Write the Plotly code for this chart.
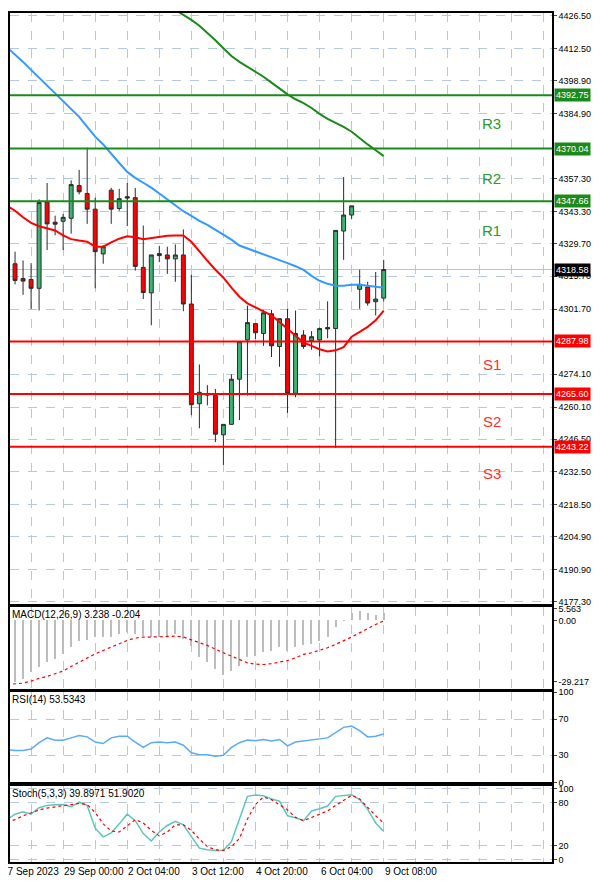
import plotly.graph_objects as go
from plotly.subplots import make_subplots

# candles (H4-ish bars), index 1..48
opens = [4315.33, 4321.04, 4314.78, 4314.36, 4310.60, 4347.33, 4338.71, 4339.12, 4340.38, 4354.29,
         4350.95, 4344.27, 4325.21, 4352.34, 4344.55, 4349.56, 4349.14, 4319.51, 4308.66, 4324.52,
         4324.79, 4323.12, 4324.79, 4303.92, 4261.49, 4265.67, 4264.97, 4248.27, 4252.72, 4271.92,
         4288.62, 4295.58, 4291.40, 4299.75, 4285.84, 4297.67, 4265.94, 4290.71, 4288.34, 4288.62,
         4293.91, 4293.49, 4334.95, 4341.77, 4310.18, 4311.16, 4304.90, 4306.43]
highs = [4321.32, 4326.19, 4322.43, 4321.32, 4348.45, 4355.40, 4341.49, 4342.19, 4356.52, 4360.97,
         4370.43, 4349.14, 4328.97, 4353.31, 4352.90, 4355.40, 4353.31, 4337.32, 4324.79, 4328.69,
         4328.27, 4329.25, 4335.65, 4316.45, 4278.19, 4269.42, 4267.75, 4252.72, 4274.01, 4287.92,
         4303.23, 4295.58, 4301.42, 4301.42, 4297.67, 4301.84, 4301.14, 4292.79, 4292.38, 4293.91,
         4305.04, 4335.23, 4357.91, 4345.66, 4318.53, 4313.38, 4317.56, 4322.71]
lows = [4313.66, 4312.27, 4307.82, 4301.84, 4301.14, 4326.88, 4333.14, 4326.88, 4333.84, 4350.53,
        4338.01, 4310.60, 4321.04, 4338.01, 4343.58, 4337.04, 4318.12, 4306.01, 4294.88, 4321.73,
        4316.73, 4313.38, 4300.86, 4256.62, 4251.06, 4260.79, 4245.21, 4235.48, 4252.45, 4254.53,
        4264.97, 4289.04, 4286.12, 4281.38, 4277.21, 4257.60, 4264.27, 4284.87, 4284.45, 4281.66,
        4289.32, 4242.71, 4322.71, 4340.10, 4301.84, 4303.23, 4299.06, 4305.04]
closes = [4320.62, 4313.94, 4313.66, 4310.60, 4347.06, 4338.01, 4337.87, 4340.79, 4354.71, 4351.65,
          4344.27, 4326.19, 4328.27, 4344.27, 4348.73, 4349.00, 4319.93, 4308.80, 4324.79, 4325.35,
          4323.12, 4324.79, 4303.92, 4261.07, 4266.36, 4265.25, 4248.55, 4252.72, 4271.92, 4287.92,
          4296.00, 4291.69, 4300.17, 4286.12, 4297.67, 4265.94, 4291.40, 4285.84, 4290.01, 4293.49,
          4293.35, 4335.23, 4341.77, 4345.66, 4312.27, 4304.34, 4306.01, 4318.58]

ma_fast = [4345.7, 4343.6, 4340.8, 4338.4, 4337.0, 4336.2, 4335.2, 4333.1, 4331.5, 4330.9,
           4330.4, 4328.3, 4328.3, 4330.1, 4331.7, 4332.7, 4332.3, 4331.5, 4332.0, 4332.7,
           4333.0, 4333.1, 4333.1, 4330.4, 4326.2, 4322.3, 4318.5, 4315.1, 4310.9, 4307.0,
           4304.2, 4302.5, 4300.9, 4299.1, 4296.3, 4293.5, 4290.3, 4287.5, 4286.1, 4284.7,
           4283.7, 4284.2, 4285.6, 4290.0, 4292.1, 4294.2, 4297.0, 4301.1]
ma_mid = [4413.1, 4410.2, 4406.9, 4403.5, 4400.2, 4396.8, 4393.5, 4390.2, 4386.8, 4383.5,
          4379.3, 4375.1, 4371.8, 4367.6, 4363.9, 4360.1, 4357.6, 4355.5, 4353.4, 4350.9,
          4348.4, 4345.9, 4343.4, 4341.4, 4339.3, 4337.6, 4335.5, 4333.4, 4331.3, 4328.8,
          4327.6, 4326.3, 4325.1, 4323.8, 4322.6, 4321.3, 4320.0, 4318.4, 4315.9, 4313.8,
          4312.5, 4311.7, 4311.7, 4312.1, 4312.1, 4311.7, 4311.2, 4310.8]
ma_slow = [None] * 21 + [4429.0, 4426.9, 4424.8, 4422.3, 4419.4, 4416.1, 4412.7, 4409.4, 4406.9,
                         4404.8, 4402.7, 4400.6, 4398.1, 4395.6, 4393.1, 4391.0, 4389.4, 4387.3, 4384.8,
                         4382.7, 4381.0, 4379.3, 4377.2, 4374.3, 4371.8, 4369.3, 4366.8]

macd_hist = [-30.5, -29.7, -28.1, -24.9, -22.5, -20.2, -18.6, -16.2, -12.7, -10.2,
             -9.5, -7.9, -8.3, -7.9, -6.7, -5.9, -6.7, -7.5, -7.9, -8.3,
             -7.9, -6.7, -9.1, -12.2, -17.8, -20.2, -23.3, -26.0, -24.5, -21.8,
             -17.8, -17.0, -15.4, -14.6, -13.0, -14.6, -13.0, -11.8, -11.4, -9.8,
             -8.3, -3.5, -0.3, 3.2, 4.1, 3.2, 2.5, 3.238]
macd_signal = [-30.5, -30.2, -29.9, -28.9, -27.6, -26.7, -25.4, -24.1, -21.9, -19.9,
               -17.8, -15.9, -14.3, -12.7, -11.1, -9.5, -8.4, -7.9, -7.9, -7.8,
               -7.5, -7.5, -7.9, -9.1, -10.6, -11.9, -13.8, -15.4, -17.0, -18.6,
               -20.2, -20.8, -21.0, -20.6, -19.9, -19.1, -17.8, -16.2, -15.4, -14.3,
               -13.0, -11.4, -9.8, -7.9, -5.9, -3.8, -1.9, -0.204]
rsi = [36.3, 35.3, 35.3, 37.0, 44.0, 49.3, 46.8, 46.8, 49.3, 51.8,
       50.4, 44.7, 43.0, 49.3, 51.1, 51.1, 44.7, 38.8, 44.0, 44.7,
       44.0, 44.7, 41.2, 32.8, 30.7, 30.7, 28.9, 30.0, 38.8, 44.0,
       46.8, 46.1, 47.5, 45.8, 47.5, 40.5, 44.7, 46.1, 46.8, 48.2,
       49.3, 55.3, 60.9, 62.3, 57.4, 50.4, 51.1, 53.53]
stoch_k = [56.4, 64.1, 67.3, 64.1, 73.2, 76.4, 77.3, 77.7, 74.5, 80.9,
           76.4, 44.5, 32.3, 37.7, 50.5, 64.1, 55.0, 36.8, 26.4, 39.1,
           48.2, 54.1, 49.1, 33.6, 16.4, 14.1, 13.2, 13.6, 25.5, 57.3,
           89.1, 90.9, 90.0, 85.5, 82.3, 61.8, 59.1, 55.0, 68.6, 71.8,
           75.5, 89.1, 90.0, 91.4, 84.5, 70.9, 51.8, 39.9]
stoch_d = [52.7, 56.4, 61.8, 66.4, 70.0, 72.7, 74.5, 75.5, 77.7, 79.1,
           77.7, 66.4, 50.5, 40.5, 39.1, 48.2, 56.4, 51.8, 41.4, 33.6,
           39.1, 49.1, 49.1, 41.4, 29.1, 18.6, 14.1, 13.2, 18.6, 30.0,
           57.3, 77.7, 88.2, 84.5, 77.7, 70.0, 59.5, 55.0, 59.5, 64.1,
           68.6, 76.4, 83.2, 90.5, 85.5, 73.2, 61.8, 51.9]

resistances = [4347.66, 4370.04, 4392.75]
supports = [4287.98, 4265.60, 4243.22]
res_names = ["R1", "R2", "R3"]
sup_names = ["S1", "S2", "S3"]
label_y_res = [4335.0, 4357.5, 4380.5]
label_y_sup = [4278.0, 4254.0, 4232.0]

price_ticks = [4426.50, 4412.50, 4398.90, 4384.90, 4357.30, 4343.30, 4329.70, 4315.70, 4301.70,
               4274.10, 4260.10, 4246.50, 4232.50, 4218.50, 4204.90, 4190.90, 4177.30]
time_ticks = [8, 16, 24, 32, 40, 48]
time_labels = ["29 Sep 00:00", "2 Oct 04:00", "3 Oct 12:00", "4 Oct 20:00",
               "6 Oct 04:00", "9 Oct 08:00"]
first_label = "27 Sep 2023"

idx = list(range(1, len(closes) + 1))
FONT = "Liberation Sans"
FS = 10
AX_FS = 9
GRID = "#b8c8dc"

fig = make_subplots(rows=4, cols=1, shared_xaxes=True, vertical_spacing=0.004)

fig.add_trace(go.Candlestick(x=idx, open=opens, high=highs, low=lows, close=closes,
                             increasing=dict(fillcolor="#3cb371", line=dict(color="#2b2b2b", width=1)),
                             decreasing=dict(fillcolor="#ff0000", line=dict(color="#2b2b2b", width=1)),
                             whiskerwidth=0), row=1, col=1)
fig.add_trace(go.Scatter(x=idx, y=ma_fast, mode="lines", line=dict(color="#ff0000", width=2)), row=1, col=1)
fig.add_trace(go.Scatter(x=idx, y=ma_mid, mode="lines", line=dict(color="#3399ff", width=2)), row=1, col=1)
fig.add_trace(go.Scatter(x=idx, y=ma_slow, mode="lines", line=dict(color="#1a8a1a", width=2)), row=1, col=1)

fig.add_trace(go.Bar(x=idx, y=macd_hist, marker=dict(color="#bdbdbd", line=dict(width=0)), width=0.15), row=2, col=1)
fig.add_trace(go.Scatter(x=idx, y=macd_signal, mode="lines", line=dict(color="#ff0000", width=1.2, dash="dot")), row=2, col=1)
fig.add_trace(go.Scatter(x=idx, y=rsi, mode="lines", line=dict(color="#5aaaf5", width=1.5)), row=3, col=1)
fig.add_trace(go.Scatter(x=idx, y=stoch_k, mode="lines", line=dict(color="#5cc6bb", width=1.5)), row=4, col=1)
fig.add_trace(go.Scatter(x=idx, y=stoch_d, mode="lines", line=dict(color="#ff0000", width=1.2, dash="dot")), row=4, col=1)

shapes = []
for lv in resistances:
    shapes.append(dict(type="line", xref="x domain", yref="y", x0=0, x1=1, y0=lv, y1=lv,
                       line=dict(color="#1a8a1a", width=2)))
for lv in supports:
    shapes.append(dict(type="line", xref="x domain", yref="y", x0=0, x1=1, y0=lv, y1=lv,
                       line=dict(color="#ff0000", width=2)))
shapes.append(dict(type="line", xref="x domain", yref="y", x0=0, x1=1, y0=closes[-1], y1=closes[-1],
                   line=dict(color="#b0c4de", width=1), layer="below"))

ann = []
for lv, nm, ly in zip(resistances, res_names, label_y_res):
    ann.append(dict(x=1, xref="paper", y=lv, yref="y", text=f"{lv:.2f}", showarrow=False, xanchor="left",
                    xshift=2, bgcolor="#1a8a1a", font=dict(color="white", size=AX_FS, family=FONT), borderpad=1))
    ann.append(dict(x=61.5, xref="x", y=ly, yref="y", text=nm, showarrow=False,
                    font=dict(color="#2e9a2e", size=15, family=FONT)))
for lv, nm, ly in zip(supports, sup_names, label_y_sup):
    ann.append(dict(x=1, xref="paper", y=lv, yref="y", text=f"{lv:.2f}", showarrow=False, xanchor="left",
                    xshift=2, bgcolor="#ff0000", font=dict(color="white", size=AX_FS, family=FONT), borderpad=1))
    ann.append(dict(x=61.5, xref="x", y=ly, yref="y", text=nm, showarrow=False,
                    font=dict(color="#ff3030", size=15, family=FONT)))
ann.append(dict(x=1, xref="paper", y=closes[-1], yref="y", text=f"{closes[-1]:.2f}", showarrow=False,
                xanchor="left", xshift=2, bgcolor="#000000", font=dict(color="white", size=AX_FS, family=FONT),
                borderpad=1))
ann.append(dict(x=0, xref="paper", y=1, yref="y2 domain", xanchor="left", yanchor="top", showarrow=False,
                text=f"MACD(12,26,9) {macd_hist[-1]:.3f} {macd_signal[-1]:.3f}", font=dict(size=FS, family=FONT)))
ann.append(dict(x=0, xref="paper", y=1, yref="y3 domain", xanchor="left", yanchor="top", showarrow=False,
                text="RSI(14) 53.5343", font=dict(size=FS, family=FONT)))
ann.append(dict(x=0, xref="paper", y=1, yref="y4 domain", xanchor="left", yanchor="top", showarrow=False,
                text="Stoch(5,3,3) 39.8971 51.9020", font=dict(size=FS, family=FONT)))
ann.append(dict(x=0, xref="paper", y=0, yref="paper", text=first_label, showarrow=False, xanchor="left",
                yanchor="top", yshift=-2, xshift=-10, font=dict(size=FS, family=FONT)))
for t, lab in zip(time_ticks, time_labels):
    ann.append(dict(x=t, xref="x4", y=0, yref="paper", text=lab, showarrow=False, xanchor="left",
                    yanchor="top", yshift=-2, xshift=-1, font=dict(size=FS, family=FONT)))

# page body keeps an 8px margin, so the figure is sized to fit the 600x882 window
fig.update_layout(width=592, height=874, margin=dict(l=0, r=48, t=0, b=20),
                  paper_bgcolor="white", plot_bgcolor="white", showlegend=False,
                  shapes=shapes, annotations=ann, bargap=0,
                  font=dict(family=FONT, size=FS, color="black"))

axis_common = dict(showline=True, linecolor="black", linewidth=1.5, mirror=True,
                   gridcolor=GRID, griddash="dash", gridwidth=1, zeroline=False)
for i in range(1, 5):
    fig.update_xaxes(axis_common, row=i, col=1, range=[1.37, 69.0], tickvals=list(range(4, 69, 4)),
                     showticklabels=False, rangeslider_visible=False, ticks="")
    fig.update_yaxes(tickfont=dict(size=AX_FS), row=i, col=1)
fig.update_yaxes(axis_common, row=1, col=1, side="right", range=[4176.5, 4427.7], tickvals=price_ticks,
                 ticktext=[f"{v:.2f}" for v in price_ticks], ticks="outside", ticklen=3, domain=[0.3044, 1.0])
fig.update_yaxes(axis_common, row=2, col=1, side="right", range=[-32.7, 6.2], tickvals=[5.563, 0, -29.217],
                 ticktext=["5.563", "0.00", "-29.217"], showgrid=False, ticks="outside", ticklen=3,
                 domain=[0.2037, 0.2998])
fig.update_yaxes(axis_common, row=3, col=1, side="right", range=[0, 100], tickvals=[0, 30, 70, 100],
                 ticks="outside", ticklen=3, domain=[0.0937, 0.2002])
fig.update_yaxes(axis_common, row=4, col=1, side="right", range=[-3, 103], tickvals=[0, 20, 80, 100],
                 ticks="outside", ticklen=3, domain=[0.0, 0.0890])

fig.write_html("out.html")
